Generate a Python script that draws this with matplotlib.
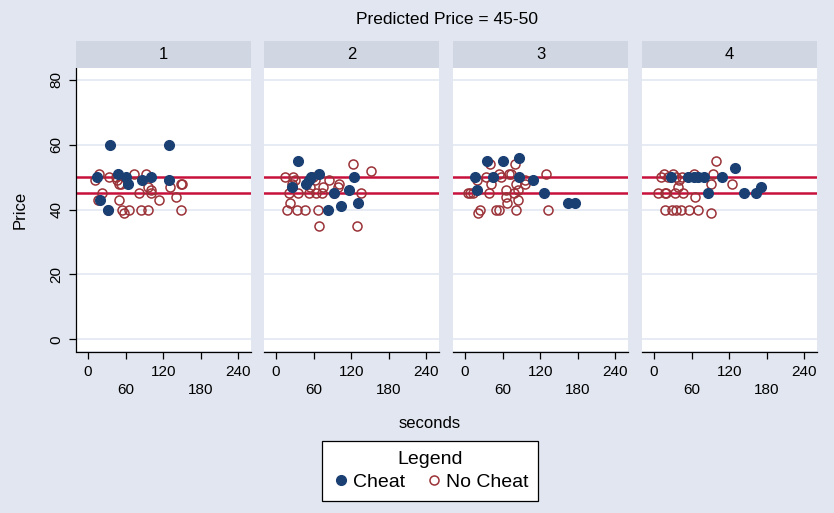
import numpy as np
import matplotlib.pyplot as plt
from matplotlib.lines import Line2D

plt.rcParams['font.family'] = ['Liberation Sans', 'DejaVu Sans']

# ----------------------------------------------------------------------
# data: (seconds, price) per panel
# ----------------------------------------------------------------------

panels = ['1', '2', '3', '4']

cheat_sec = [
    [35, 129, 14, 48, 60, 64, 87, 100, 130, 20, 32],
    [35, 68, 56, 53, 48, 26, 125, 93, 116, 83, 103, 131],
    [36, 60, 87, 16, 45, 87, 108, 19, 126, 165, 175],
    [27, 54, 64, 70, 80, 109, 129, 87, 144, 162, 170],
]
cheat_price = [
    [60, 60, 50, 51, 50, 48, 49, 50, 49, 43, 40],
    [55, 51, 50, 49, 48, 47, 50, 45, 46, 40, 41, 42],
    [55, 55, 56, 50, 50, 50, 49, 46, 45, 42, 42],
    [50, 50, 50, 50, 50, 50, 53, 45, 45, 45, 47],
]

nocheat_sec = [
    [11, 18, 33, 45, 47, 49, 52, 73, 92, 96, 100, 100, 81, 23, 16, 49, 114,
     131, 141, 148, 150, 32, 54, 57, 65, 84, 95, 149],
    [14, 27, 30, 25, 59, 62, 54, 75, 84, 101, 99, 123, 151, 21, 35, 53, 64,
     74, 93, 135, 22, 18, 33, 47, 67, 68, 130],
    [40, 80, 129, 34, 54, 58, 71, 74, 42, 19, 95, 96, 82, 65, 84, 79, 65, 8,
     13, 39, 84, 67, 24, 21, 50, 54, 82, 132, 5],
    [11, 16, 23, 31, 36, 44, 40, 64, 94, 99, 91, 124, 38, 6, 18, 20, 34, 46,
     66, 18, 29, 36, 43, 56, 70, 91],
]
nocheat_price = [
    [49, 51, 50, 50, 49, 48, 48, 51, 51, 47, 46, 45, 45, 45, 43, 43, 43,
     47, 44, 48, 48, 40, 40, 39, 40, 40, 40, 40],
    [50, 50, 49, 48, 50, 49, 47, 47, 49, 48, 47, 54, 52, 45, 45, 45, 45,
     45, 45, 45, 42, 40, 40, 40, 40, 35, 35],
    [54, 54, 51, 50, 51, 50, 51, 51, 48, 49, 49, 48, 48, 46, 46, 45, 44, 45,
     45, 45, 43, 42, 40, 39, 40, 40, 40, 40, 45],
    [50, 51, 50, 51, 50, 50, 49, 51, 51, 55, 48, 48, 47, 45, 45, 45, 45, 45,
     44, 40, 40, 40, 40, 40, 40, 39],
]

band = [45, 50]
xticks = [0, 60, 120, 180, 240]
yticks = [0, 20, 40, 60, 80]

# ----------------------------------------------------------------------
# figure
# ----------------------------------------------------------------------

bg = '#e1e6f0'
strip_col = '#d0d7e3'
grid_col = '#e3e8f1'
navy = '#1a3f73'
maroon = '#9a3238'
red = '#c8103c'

W, H = 834, 513
fig = plt.figure(figsize=(W/100, H/100), dpi=100, facecolor=bg)

lefts = [76, 264, 453, 642]
pw = 175
top, bottom = 68, 351

for i in range(4):
    ax = fig.add_axes([lefts[i]/W, (H - bottom)/H, pw/W, (bottom - top)/H])
    ax.set_facecolor('white')
    ax.set_xlim(-19, 260)
    ax.set_ylim(-3.6, 83.7)
    for y in yticks:
        ax.axhline(y, color=grid_col, lw=1.2, zorder=0)
    for y in band:
        ax.axhline(y, color=red, lw=1.8, zorder=1)
    ax.plot(nocheat_sec[i], nocheat_price[i], 'o', ms=6.5, mfc='none',
            mec=maroon, mew=1.1, zorder=3)
    ax.plot(cheat_sec[i], cheat_price[i], 'o', ms=7, mfc=navy,
            mec=navy, zorder=4)

    for s in ['top', 'right']:
        ax.spines[s].set_visible(False)
    ax.spines['bottom'].set_linewidth(0.9)
    ax.spines['bottom'].set_position(('outward', 1))
    ax.set_xticks(xticks)
    ax.set_xticklabels([str(t) if k % 2 == 0 else '\n' + str(t)
                        for k, t in enumerate(xticks)], linespacing=1.35)
    ax.tick_params(axis='x', length=5, width=0.9, labelsize=11, pad=4)
    if i == 0:
        ax.spines['left'].set_linewidth(0.9)
        ax.set_yticks(yticks)
        ax.set_yticklabels([str(t) for t in yticks], rotation=90, va='center')
        ax.tick_params(axis='y', length=5, width=0.9, labelsize=11, pad=4)
        ax.set_ylabel('Price', fontsize=12, labelpad=16)
    else:
        ax.spines['left'].set_visible(False)
        ax.set_yticks([])

    # strip header
    sx = fig.add_axes([lefts[i]/W, (H - top)/H, pw/W, 27/H])
    sx.set_facecolor(strip_col)
    sx.set_xticks([])
    sx.set_yticks([])
    for s in sx.spines.values():
        s.set_visible(False)
    sx.text(0.5, 0.5, panels[i], ha='center', va='center', fontsize=12)

fig.text(447/W, 1 - 20/H, 'Predicted Price = 45-50', ha='center',
         va='center', fontsize=12.5)
fig.text(430/W, 1 - 423/H, 'seconds', ha='center', va='center',
         fontsize=12)

handles = [
    Line2D([], [], ls='none', marker='o', ms=7, mfc=navy, mec=navy),
    Line2D([], [], ls='none', marker='o', ms=6.5, mfc='none', mec=maroon,
           mew=1.1),
]
leg = fig.legend(handles, ['Cheat', 'No Cheat'], ncol=2, title='Legend',
                 loc='center', bbox_to_anchor=(430/W, 1 - 471/H),
                 fontsize=14, title_fontsize=14, frameon=True,
                 fancybox=False, edgecolor='black', facecolor='white',
                 framealpha=1, handletextpad=0.1,
                 columnspacing=1.0, handlelength=1.0, borderpad=0.5,
                 labelspacing=0.3)
leg.get_frame().set_linewidth(0.9)

fig.savefig('out.png', dpi=100, facecolor=bg)
